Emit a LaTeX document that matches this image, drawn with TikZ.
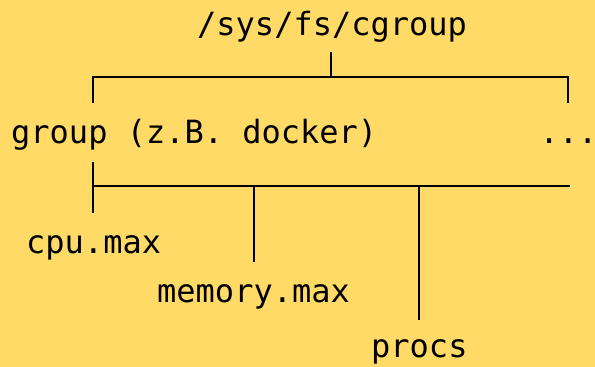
\documentclass[tikz,border=0pt]{standalone}
\usepackage{fontspec}
\newfontfamily\codefont{DejaVu Sans Mono}
\definecolor{bgyellow}{RGB}{255,218,102}
\tikzset{
	path/.style={inner sep=0pt, anchor=base west, font=\codefont\fontsize{32}{38}\selectfont},
	branch/.style={line width=2.3pt}
}
\begin{document}
\begin{tikzpicture}[x=1pt, y=-1pt]
		%background
		\fill[bgyellow] (0,0) rectangle (595,367);
		\useasboundingbox (0,0) rectangle (595,367);
		
		%labels
		\node[path] (root) at (197,35){/sys/fs/cgroup};
		\node[path] (group) at (11,143){group (z.B. docker)};
		\node[path] (dots) at (539.5,143){...};
		\node[path] (cpu) at (26,253){cpu.max};
		\node[path] (mem) at (157,302){memory.max};
		\node[path] (procs) at (371,357){procs};
		
		%first level
		\coordinate (tick) at (331,52);
		\coordinate (bus1) at (331,77);
		\coordinate (group-up) at (93,103);
		\coordinate (dots-up) at (568,103);
		\draw[branch] (tick) -- (bus1);
		\draw[branch] (group-up) |- (bus1) -| (dots-up);
		
		%second level
		\coordinate (group-down) at (93,162);
		\coordinate (bus2) at (570,186);
		\coordinate (cpu-up) at (93,213);
		\coordinate (mem-up) at (254,262);
		\coordinate (procs-up) at (419,320);
		\draw[branch] (group-down) -- (cpu-up);
		\draw[branch] (cpu-up) |- (bus2);
		\foreach \c in {mem-up, procs-up}{
			\draw[branch] (\c) -- (\c |- bus2);
		}
		\end{tikzpicture}
\end{document}
